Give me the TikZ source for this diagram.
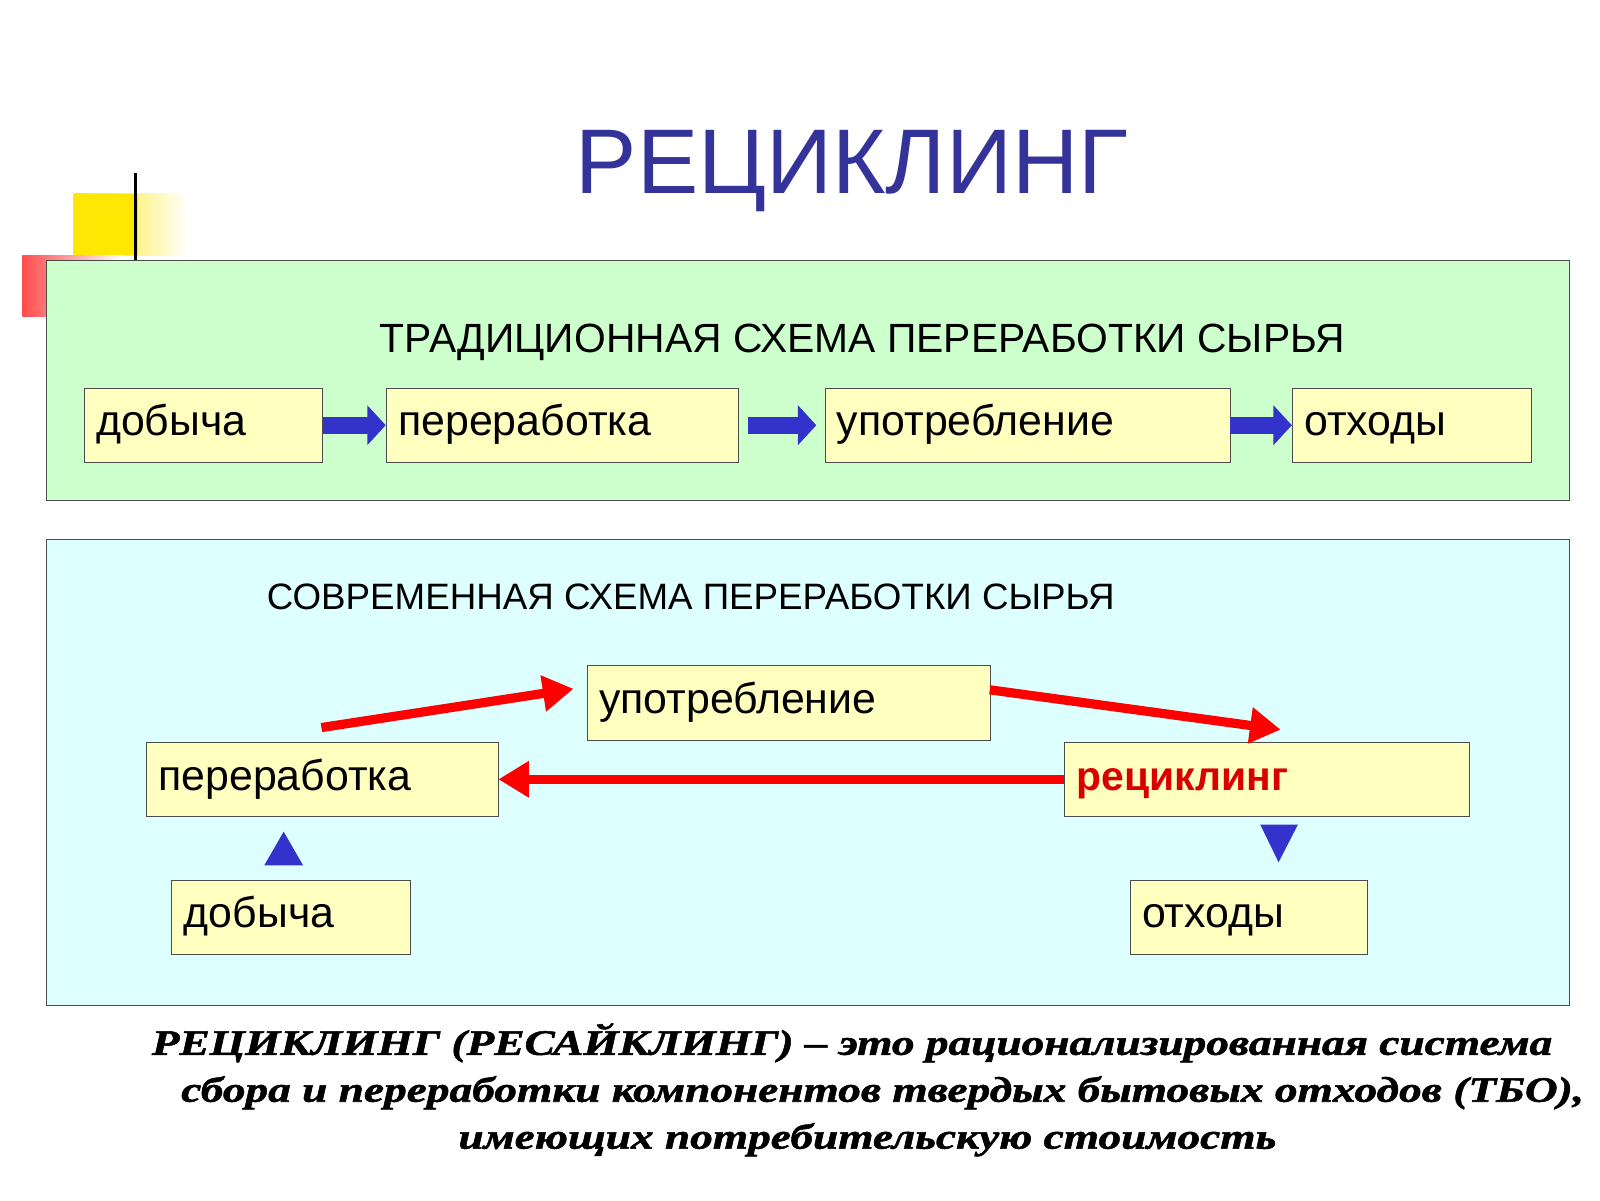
\documentclass[tikz,border=0pt]{standalone}
\usepackage{fontspec}
\setmainfont{Liberation Sans}
\newfontfamily\capfont[FakeStretch=1.27,FakeBold=1.5]{Liberation Serif}
\usetikzlibrary{arrows.meta}
\definecolor{ybox}{RGB}{255,255,192}
\definecolor{gbg}{RGB}{204,255,204}
\definecolor{cbg}{RGB}{221,255,255}
\definecolor{tblue}{RGB}{51,51,153}
\definecolor{ablue}{RGB}{51,51,204}
\tikzset{x=1pt,y=-1pt,
 bx/.style={draw=black!70,fill=ybox,minimum height=73pt,anchor=north west,inner xsep=12pt,font=\fontsize{42}{46}\selectfont,text height=30pt,text depth=9pt},
 barr/.style={draw=ablue,line width=17pt,-{Triangle[length=18pt,width=38pt]}},
 rarr/.style={draw=red,line width=9pt,-{Triangle[length=30pt,width=34pt]}},
 tri/.style={fill=ablue,draw=none}}
\begin{document}
\begin{tikzpicture}
\useasboundingbox (0,0) rectangle (1568,1176);
\fill[white] (0,0) rectangle (1568,1176);
% decoration
\shade[left color=yellow!80!orange,right color=white] (72,190) rectangle (185,250);
\fill[yellow!90!orange] (72,190) rectangle (135,250);
\shade[left color=red!70,right color=white] (22,250) rectangle (120,310);
\draw[line width=3pt] (133,170) -- (133,262);
\node[font=\fontsize{90}{100}\selectfont,text=tblue] (title) at (835,168) {РЕЦИКЛИНГ};
% green section
\node[draw=black!70,fill=gbg,minimum width=1493pt,minimum height=235pt,anchor=north west] (g) at (45,255) {};
\node[font=\fontsize{40}{44}\selectfont] (gt) at (845,335) {ТРАДИЦИОННАЯ СХЕМА ПЕРЕРАБОТКИ СЫРЬЯ};
\node[bx,text width=210pt] (a1) at (82,380) {добыча};
\node[bx,text width=321pt] (a2) at (378,380) {переработка};
\node[bx,text width=373pt] (a3) at (808,380) {употребление};
\node[bx,text width=210pt] (a4) at (1266,380) {отходы};
\draw[barr] (a1.east) -- (a2.west);
\draw[barr] ([xshift=-75pt]a3.west) -- ([xshift=-8pt]a3.west);
\draw[barr] (a3.east) -- (a4.west);
% cyan section
\node[draw=black!70,fill=cbg,minimum width=1493pt,minimum height=457pt,anchor=north west] (c) at (45,528) {};
\node[font=\fontsize{36}{40}\selectfont,anchor=west] (ct) at (258,585) {СОВРЕМЕННАЯ СХЕМА ПЕРЕРАБОТКИ СЫРЬЯ};
\node[bx,text width=371pt] (b1) at (575,652) {употребление};
\node[bx,text width=321pt] (b2) at (143,727) {переработка};
\node[bx,text width=373pt,font=\fontsize{40}{44}\selectfont\bfseries,text=red!85!black] (b3) at (1043,727) {рециклинг};
\node[bx,text width=210pt] (b4) at (168,862) {добыча};
\node[bx,text width=209pt] (b5) at (1107,862) {отходы};
\coordinate (r1s) at (315,713);
\coordinate (r1e) at (562,675);
\coordinate (r2s) at (970,676);
\coordinate (r2e) at (1255,715);
\draw[rarr] (r1s) -- (r1e);
\draw[rarr] (r2s) -- (r2e);
\draw[rarr] (b3.west) -- (b2.east);
\fill[tri] (278,815) -- (297,848) -- (259,848) -- cycle;
\fill[tri] (1235,808) -- (1272,808) -- (1253,845) -- cycle;
% caption
\node[font=\capfont\fontsize{35}{46}\selectfont\bfseries\itshape,align=center] (cap) at (850,1068)
 {\hspace*{-30pt}РЕЦИКЛИНГ (РЕСАЙКЛИНГ) – это рационализированная система\\
 \hspace*{30pt}сбора и переработки компонентов твердых бытовых отходов (ТБО),\\
 имеющих потребительскую стоимость};
\end{tikzpicture}
\end{document}
